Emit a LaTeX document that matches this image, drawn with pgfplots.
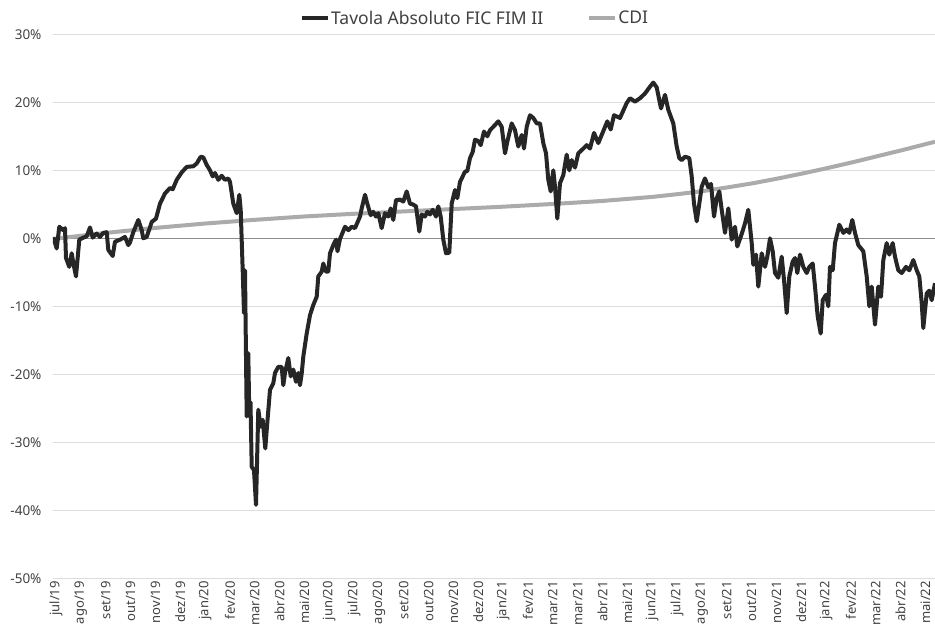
\documentclass[border=0pt]{standalone}
\usepackage{fontspec}
\setmainfont{Noto Sans}
\usepackage{pgfplots}
\usepackage{pgfplotstable}
\pgfplotsset{compat=1.18}
\definecolor{fundc}{HTML}{262626}
\definecolor{cdic}{HTML}{ABABAB}
\definecolor{gridc}{HTML}{DDDDDD}
\definecolor{zeroc}{HTML}{8C8C8C}
\definecolor{labc}{HTML}{404040}

% x = position along the time axis (month ticks every ~24.84 units, jul/19 at 54)
\pgfplotstableread{
x y
53.3 0.25
56.7 -1.4
59.3 1.8
63.3 1.3
65 1.6
66 -2.8
69.3 -4.1
71.7 -2.1
73.3 -3.5
76 -5.5
79.3 -0.1
83.3 0.2
86.7 0.4
90 1.7
92.7 0.2
96.7 0.8
100 0.3
103.3 0.9
106.7 1.0
108.3 -1.6
112.7 -2.5
115 -0.4
120 -0.1
125 0.3
128.3 -0.9
130 -0.5
133.3 1.0
138.3 2.8
141.7 1.3
143.3 0.1
146.7 0.3
151.7 2.5
156 3.0
160 5.2
165 6.7
170 7.5
172.7 7.3
176.7 8.7
181.7 9.8
186.7 10.6
193.3 10.7
196.7 11.1
200.7 12.1
203.3 12.0
206.7 10.9
210 10.1
212.7 9.2
215 9.7
218.3 8.7
221.7 9.3
225 8.7
228.3 8.9
230 8.4
233.3 5.2
236.7 3.8
239.3 6.5
240.7 4.3
242.7 -4.6
244 -10.9
245 -4.6
246.7 -26.1
248.3 -16.8
249.3 -26.1
250.5 -24.0
251.7 -33.5
254 -34.0
256 -39.1
258.3 -25.1
260.7 -27.6
262.7 -26.6
265.3 -30.8
266.7 -28.1
270 -22.2
273.3 -21.2
275 -19.7
278.3 -18.8
281.7 -18.8
283.3 -21.5
285 -19.7
288.3 -17.5
290.7 -20.2
293.3 -19.2
296 -21.0
298.3 -19.7
300 -21.5
301.7 -19.8
303.3 -17.3
306.7 -13.9
310 -11.2
313.3 -9.7
316.7 -8.5
318.3 -5.5
321.7 -4.8
323.3 -3.6
326 -4.8
328.3 -4.8
330 -2.1
333.3 -0.9
336 -0.1
337.5 -1.8
340 0.0
345 1.8
348.3 1.3
351.7 1.8
355 1.6
360 3.3
361.7 4.5
365 6.5
367.3 5.2
370.7 3.5
373.3 4.0
376 3.3
378.3 3.8
381.7 1.6
385 3.8
388.3 3.3
390.7 4.5
393.3 2.8
396 5.7
400 5.8
403.3 5.5
406.7 7.0
410 5.2
412.7 5.1
416 4.8
419.3 1.1
421.7 3.6
425 3.3
427.3 4.0
430 3.6
432.7 4.3
436 3.3
438.3 4.8
440.7 3.3
443.3 -0.1
446 -2.1
449.3 -2.0
451.7 5.2
455 7.2
457.3 6.0
460 8.4
465 9.9
467.3 10.0
470 11.9
472.7 12.8
475 14.6
478.3 14.4
480.7 13.8
484 15.8
487.3 15.1
490 16.0
493.3 16.5
498.3 17.3
501.7 16.5
505 12.6
507.3 14.3
511.7 17.0
515 16.0
518.3 13.6
521.7 15.3
524 13.3
526.7 16.5
530 18.2
533.3 17.8
536.7 17.0
540 17.0
543.3 14.1
546 12.6
548.3 8.7
550.7 7.0
553.3 10.1
555 7.7
557.3 3.0
560 8.2
563.3 9.4
566.7 12.4
569.3 10.1
571.7 11.6
575 10.5
578.3 12.6
583.3 13.3
586.7 13.8
590 13.3
594 15.6
598.3 14.1
601.7 15.3
607.3 17.3
610.7 16.1
614 18.2
620 17.8
626.7 20.0
630 20.7
635 20.2
640 20.7
645 21.4
650 22.4
653.3 23.0
656.7 22.3
661 19.2
665 21.2
668.3 19.0
673.3 17.0
676.7 13.6
679.3 11.9
681.7 11.6
685 12.1
689.3 11.9
691.7 9.2
694 5.2
696.7 2.6
699.3 5.2
701.7 7.7
705 8.9
708.3 7.6
711 8.1
714 3.3
716.7 6.0
719.3 7.0
721.7 4.3
725 0.9
728.3 4.5
731.7 -0.1
735 1.8
737.3 -1.1
740.7 0.3
742.7 1.2
745 2.3
748.3 4.3
751.7 -0.6
753.3 -3.8
756 -2.3
758.3 -7.0
761.7 -2.1
765 -4.1
767.3 -2.6
770 0.1
772.7 -1.8
775 -5.0
778.3 -5.7
781.7 -2.6
784 -6.0
786.7 -10.9
789.3 -5.5
792.7 -3.3
795 -2.8
797.3 -5.0
800 -2.3
803.3 -4.1
806.7 -5.0
809.3 -4.1
812.7 -3.6
815 -7.0
817.7 -11.4
820.7 -13.9
822.7 -9.0
826 -8.2
828.3 -9.9
830 -4.1
832.7 -4.6
835 -0.6
839.3 2.1
843.3 0.9
846.7 1.4
849.3 0.9
852.3 2.8
855 0.9
858.3 -0.9
863.3 -1.8
866.7 -5.5
869.3 -9.9
871.7 -7.0
875 -12.6
878.3 -7.0
881 -8.5
883.3 -3.1
886.7 -0.6
889.3 -2.3
892.7 -0.6
895 -2.6
898.3 -4.6
901.7 -5.0
906 -4.1
909.3 -4.6
913.3 -3.1
916.7 -4.6
919.3 -5.5
921.7 -9.4
923.3 -13.1
926.7 -8.0
929.3 -7.6
931.7 -9.0
935 -6.5
}\fundtable

\pgfplotstableread{
x y
53 0
103 0.85
153 1.6
203 2.25
253 2.8
303 3.3
353 3.7
403 4.05
453 4.4
503 4.75
553 5.15
603 5.6
653 6.2
678 6.6
703 7.05
728 7.6
753 8.2
778 8.9
803 9.65
828 10.45
853 11.3
878 12.2
903 13.1
935 14.3
}\cditable

\begin{document}
\begin{tikzpicture}[x=1pt,y=1pt]
\begin{axis}[
  at={(53pt,52pt)}, anchor=south west,
  scale only axis, width=882pt, height=544pt,
  xmin=53, xmax=935, ymin=-50, ymax=30,
  axis line style={draw=none},
  major tick length=0pt,
  ytick={-50,-40,...,30},
  yticklabels={-50\%,-40\%,-30\%,-20\%,-10\%,0\%,10\%,20\%,30\%},
  ymajorgrids, major grid style={color=gridc, line width=1pt},
  extra y ticks={0}, extra y tick labels={},
  extra y tick style={grid=major, major grid style={color=zeroc, line width=1pt}},
  xtick={54,78.84,103.68,128.52,153.36,178.2,203.04,227.88,252.72,277.56,302.4,327.24,352.08,376.92,401.76,426.6,451.44,476.28,501.12,525.96,550.8,575.64,600.48,625.32,650.16,675,699.84,724.68,749.52,774.36,799.2,824.04,848.88,873.72,898.56,923.4},
  xticklabels={jul/19,ago/19,set/19,out/19,nov/19,dez/19,jan/20,fev/20,mar/20,abr/20,mai/20,jun/20,jul/20,ago/20,set/20,out/20,nov/20,dez/20,jan/21,fev/21,mar/21,mar/21,abr/21,mai/21,jun/21,jul/21,ago/21,set/21,out/21,nov/21,dez/21,jan/22,fev/22,mar/22,abr/22,mai/22},
  xticklabel style={rotate=90, anchor=east, font=\fontsize{13}{16}\selectfont, text=labc, inner sep=2pt, yshift=-2pt},
  yticklabel style={font=\fontsize{13.5}{16}\selectfont, text=labc, xshift=-8pt},
  legend columns=2,
  legend style={at={(0.478,1.031)}, anchor=center, draw=none, fill=none,
    font=\fontsize{17.5}{20}\selectfont, text=labc,
    /tikz/every even column/.append style={column sep=42pt},
    nodes={inner sep=1.5pt}},
  legend image code/.code={\draw[#1] (0pt,0pt) -- (26pt,0pt);},
]
\addplot[cdic, line width=4pt, line join=round, forget plot] table[x=x,y=y] {\cditable};
\addplot[fundc, line width=4pt, line join=round, forget plot] table[x=x,y=y] {\fundtable};
\addlegendimage{fundc, line width=4pt}
\addlegendentry{Tavola Absoluto FIC FIM II}
\addlegendimage{cdic, line width=4pt}
\addlegendentry{CDI}
\end{axis}
\pgfresetboundingbox
\useasboundingbox (0pt,0pt) rectangle (935pt,631pt);
\end{tikzpicture}
\end{document}
